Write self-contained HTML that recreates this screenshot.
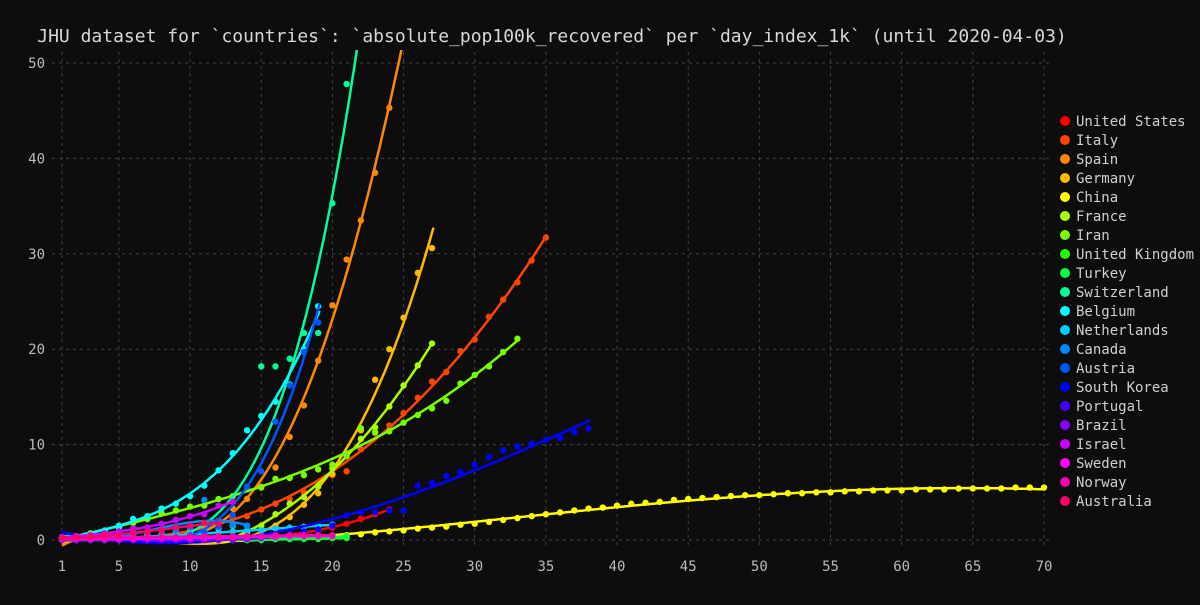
<!DOCTYPE html>
<html><head><meta charset="utf-8"><style>
html,body{margin:0;padding:0;background:#0d0d0d;}
svg text{font-family:"DejaVu Sans Mono","Liberation Mono",monospace;}
</style></head><body>
<svg id="chart" width="1200" height="600">
<rect width="1200" height="600" fill="#0d0d0d"/>
<text x="552" y="42" text-anchor="middle" font-size="18" fill="#d8d8d8">JHU dataset for `countries`: `absolute_pop100k_recovered` per `day_index_1k` (until 2020-04-03)</text>
<g id="grid"></g><g id="axes"></g>
<defs><clipPath id="clip"><rect x="52" y="50" width="1000" height="505"/></clipPath></defs>
<g id="marks" clip-path="url(#clip)"></g>
<g id="legend"></g>
</svg>
<script>
const xTicks=[1,5,10,15,20,25,30,35,40,45,50,55,60,65,70];
const yTicks=[0,10,20,30,40,50];
const names=["United States","Italy","Spain","Germany","China","France","Iran","United Kingdom","Turkey","Switzerland","Belgium","Netherlands","Canada","Austria","South Korea","Portugal","Brazil","Israel","Sweden","Norway","Australia"];
const colors=["#ff0000","#ff4400","#ff8800","#ffbb00","#ffff00","#aaff00","#77ff00","#22ff00","#00ff44","#00ff99","#00ffff","#00ccff","#0088ff","#0055ff","#0000ff","#4400ff","#8800ff","#cc00ff","#ff00ff","#ff00aa","#ff0066"];
const startDays=[1,1,1,1,1,13,1,1,1,1,1,1,1,1,1,1,1,1,1,1,1];
const fitDeg=[3,3,4,3,4,3,3,3,3,4,3,3,3,3,3,3,3,3,3,3,3];
const usVals=[0,0,0,0,0,0,0,0,0,0,0,0.1,0.1,0.2,0.3,0.4,0.5,0.7,1.0,1.3,1.7,2.2,2.7,3.2];
const itVals=[0.1,0.1,0.2,0.2,0.3,0.4,0.5,0.6,0.8,1.0,1.5,1.9,2.3,2.5,3.2,3.8,4.3,5.0,5.9,6.8,7.2,9.5,11.2,12,13.3,14.9,16.6,17.6,19.8,21,23.4,25.2,27,29.3,31.7];
const esVals=[0,0,0,0,0,0.1,0.2,0.3,0.6,1.0,1.5,2.0,3.3,4.3,5.6,7.6,10.8,14.1,18.8,24.6,29.4,33.5,38.5,45.3];
const deVals=[0,0,0,0,0,0,0,0,0,0,0,0,0.1,0.2,0.5,1.5,2.4,3.7,4.9,6.9,9.0,11.5,16.8,20,23.3,28,30.6];
const cnVals=[0,0,0,0,0,0,0,0,0,0,0,0,0,0,0.1,0.1,0.2,0.2,0.3,0.4,0.5,0.6,0.8,0.9,1.0,1.2,1.3,1.4,1.6,1.7,1.9,2.1,2.3,2.5,2.7,2.9,3.1,3.3,3.4,3.6,3.8,3.9,4.0,4.2,4.3,4.4,4.5,4.6,4.7,4.7,4.8,4.9,4.9,5.0,5.0,5.1,5.1,5.2,5.2,5.2,5.3,5.3,5.3,5.4,5.4,5.4,5.4,5.5,5.5,5.5];
const frVals=[0.3,0.8,1.5,2.7,3.8,4.5,5.6,7.5,9.0,10.6,11.8,14,16.2,18.3,20.6];
const irVals=[0.2,0.4,0.7,0.9,1.3,1.8,2.2,2.8,3.1,3.5,3.6,4.3,4.6,5.3,5.5,6.4,6.5,6.8,7.4,7.9,8.8,11.7,11.3,11.4,12.3,13.1,13.8,14.6,16.4,17.3,18.2,19.7,21.1];
const ukVals=[0,0,0,0,0,0,0,0,0,0,0,0,0,0,0,0.1,0.1,0.1,0.1,0.2,0.2];
const trVals=[0,0,0,0,0,0,0,0,0,0,0,0,0,0,0,0.1,0.1,0.2,0.2,0.3,0.4];
const chVals=[0.3,0.3,0.3,0.3,0.4,0.4,0.5,0.5,0.6,0.8,1.0,1.2,1.5,1.5,18.2,18.2,19.0,21.7,21.7,35.3,47.8];
const beVals=[0.3,0.4,0.5,1.0,1.5,2.2,2.5,3.3,3.8,4.6,5.7,7.3,9.1,11.5,13,14.5,16.3,20,24.5];
const nlVals=[0.1,0.1,0.1,0.2,0.2,0.3,0.3,0.4,0.5,0.6,0.7,0.8,0.9,1.0,1.0,1.2,1.3,1.4,1.5,1.6];
const caVals=[0.1,0.2,0.3,0.4,0.5,0.6,0.8,0.9,1.0,1.3,4.2,1.4,1.6,1.5];
const atVals=[0,0,0,0,0,0.1,0.1,0.2,0.3,0.5,0.8,1.4,2.6,5.6,7.2,12.4,16.2,19.7,22.8];
const krVals=[0.1,0.1,0.1,0.1,0.1,0.1,0.2,0.2,0.2,0.2,0.3,0.3,0.3,0.4,0.4,0.5,0.6,0.9,1.1,1.5,2.6,2.9,2.9,3.1,3.1,5.7,6.0,6.7,7.1,7.9,8.7,9.4,9.8,10.1,10.5,10.7,11.3,11.7];
const ptVals=[0,0,0,0,0,0,0,0,0,0,0,0,0,0.1,0.2,0.3,0.5];
const brVals=[0,0,0,0,0,0,0,0,0,0,0,0,0.1,0.1];
const ilVals=[0.3,0.4,0.5,0.7,0.9,1.2,1.3,1.7,2.1,2.5,2.7,3.6,4.0];
const seVals=[0.1,0.1,0.1,0.1,0.1,0.1,0.2,0.2,0.2,0.2,0.2,0.3,0.3,0.3,0.3,0.3,0.4,0.4,0.4,0.4];
const noVals=[0.2,0.2,0.2,0.2,0.3,0.3,0.3,0.3,0.3,0.4,0.4,0.4,0.4,0.4,0.4,0.5,0.5,0.5,0.5,0.5];
const auVals=[0.2,0.3,0.4,0.5,0.5,0.8,0.9,1.0,1.3,1.5,1.8,1.7];
const series=[usVals,itVals,esVals,deVals,cnVals,frVals,irVals,ukVals,trVals,chVals,beVals,nlVals,caVals,atVals,krVals,ptVals,brVals,ilVals,seVals,noVals,auVals];

const NS="http://www.w3.org/2000/svg";
const X0=62,X1=1044,Y0=540,Y1=63;
function xs(d){return X0+(d-1)*(X1-X0)/69;}
function ys(v){return Y0-v*(Y0-Y1)/50;}
function mk(tag,attrs,parent){const e=document.createElementNS(NS,tag);for(const k in attrs)e.setAttribute(k,attrs[k]);parent.appendChild(e);return e;}
const grid=document.getElementById('grid'),axes=document.getElementById('axes'),marks=document.getElementById('marks'),legend=document.getElementById('legend');
xTicks.forEach(t=>{
  const l=mk('line',{x1:xs(t),x2:xs(t),y1:52,y2:548,stroke:'#444','stroke-dasharray':'3,4','stroke-width':1},grid);
  
  
  const tx=mk('text',{x:xs(t),y:571,'text-anchor':'middle','font-size':14,fill:'#bbb'},axes);
  tx.textContent=t;
  
  
});
yTicks.forEach(t=>{
  const l=mk('line',{x1:52,x2:1052,y1:ys(t),y2:ys(t),stroke:'#444','stroke-dasharray':'3,4','stroke-width':1},grid);
  
  
  const tx=mk('text',{x:45,y:ys(t)+5,'text-anchor':'end','font-size':14,fill:'#bbb'},axes);
  tx.textContent=t;
  
  
});
function fit(xsA,ysA,deg){
  const n=deg+1,A=[],b=[];
  for(let i=0;i<n;i++){A.push(new Array(n).fill(0));b.push(0);}
  for(let k=0;k<xsA.length;k++){const x=(xsA[k]-35)/35;for(let i=0;i<n;i++){b[i]+=ysA[k]*Math.pow(x,i);for(let j=0;j<n;j++)A[i][j]+=Math.pow(x,i+j);}}
  for(let i=0;i<n;i++){let p=i;for(let r=i+1;r<n;r++)if(Math.abs(A[r][i])>Math.abs(A[p][i]))p=r;[A[i],A[p]]=[A[p],A[i]];[b[i],b[p]]=[b[p],b[i]];
    for(let r=0;r<n;r++){if(r===i)continue;const f=A[r][i]/A[i][i];for(let c=i;c<n;c++)A[r][c]-=f*A[i][c];b[r]-=f*b[i];}}
  const c=b.map((v,i)=>v/A[i][i]);
  return d=>{const x=(d-35)/35;let s=0;for(let i=0;i<n;i++)s+=c[i]*Math.pow(x,i);return s;};
}
series.forEach((vals,si)=>{
  const days=vals.map((v,i)=>startDays[si]+i);
  const g=mk('g',{},marks);
  
  
  const f=fit(days,vals,fitDeg[si]);
  const ext=(si===9||si===2)?1.0:0.1;
  let d='';
  for(let t=days[0];t<=days[days.length-1]+ext+0.001;t+=0.1){d+=(d?'L':'M')+xs(t).toFixed(1)+','+ys(f(t)).toFixed(1);}
  const p=mk('path',{d:d,fill:'none',stroke:colors[si],'stroke-width':2.5},g);
  
  
  vals.forEach((v,i)=>{
    const c=mk('circle',{cx:xs(days[i]),cy:ys(v),r:3.2,fill:colors[si]},g);
    
    
  });
});
names.forEach((n,i)=>{
  const g=mk('g',{},legend);
  
  
  mk('circle',{cx:1065,cy:121+i*19,r:5,fill:colors[i]},g);
  const t=mk('text',{x:1076,y:126+i*19,'font-size':14,fill:'#d0d0d0'},g);
  t.textContent=n;
});
</script>
</body></html>
